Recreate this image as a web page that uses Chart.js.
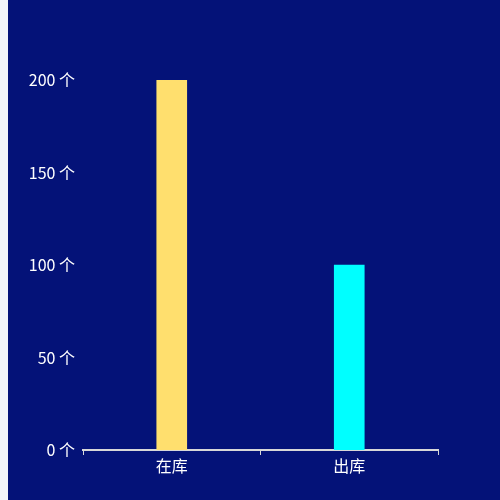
<!DOCTYPE html>
<html>
<head>
<meta charset="utf-8">
<script src="https://cdn.jsdelivr.net/npm/chart.js@4/dist/chart.umd.min.js"></script>
<style>
  html, body { margin: 0; padding: 0; background: #f3f5f9; overflow: hidden; }
  #wrap { position: absolute; left: 8px; top: 0; width: 492px; height: 500px; background: #041278; }
</style>
</head>
<body>
<div id="wrap"><canvas id="c" width="492" height="500"></canvas></div>
<script>
const categories = ["在库", "出库"];
const values = [200, 100];
const barColors = ["#ffdf6e", "#00ffff"];
const yTicks = [0, 50, 100, 150, 200];

const font = "'Noto Sans CJK SC', 'Noto Sans', sans-serif";

new Chart(document.getElementById("c"), {
  type: "bar",
  data: {
    labels: categories,
    datasets: [
      {
        data: values,
        backgroundColor: barColors,
        barThickness: 30,
      },
    ],
  },
  options: {
    responsive: false,
    animation: false,
    layout: { padding: { left: 0, right: 62, top: 80, bottom: 0 } },
    plugins: {
      legend: { display: false },
      tooltip: { enabled: false },
    },
    scales: {
      x: {
        offset: true,
        border: { display: true, color: "#d8d8d8", width: 2 },
        grid: { display: true, drawOnChartArea: false, offset: true, color: "#d8d8d8", tickLength: 5 },
        ticks: { color: "#ffffff", padding: 1, font: { family: font, size: 16 } },
        afterFit: s => { s.height = 50; },
      },
      y: {
        min: 0,
        max: 200,
        border: { display: false },
        grid: { display: false },
        afterBuildTicks: s => { s.ticks = yTicks.map(v => ({ value: v })); },
        ticks: {
          color: "#ffffff",
          padding: 0,
          font: { family: font, size: 16 },
          callback: v => v + " 个",
        },
        afterFit: s => { s.width = 75; },
      },
    },
  },
});
</script>
</body>
</html>
